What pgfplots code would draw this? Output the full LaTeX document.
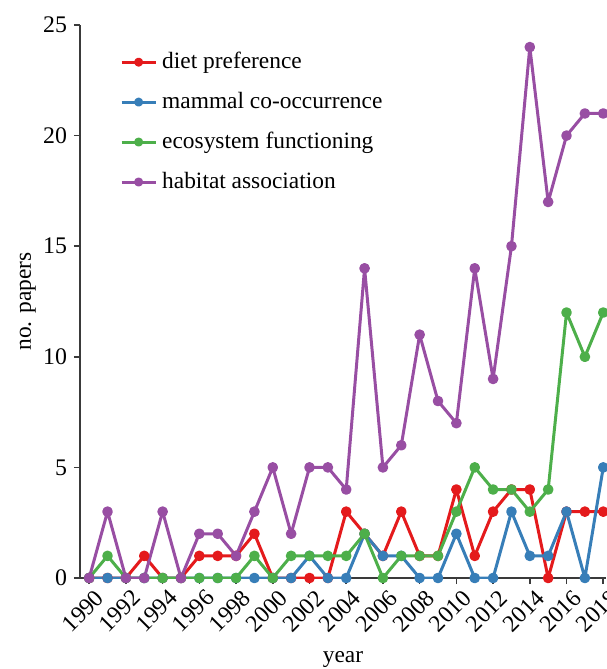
\documentclass[border=0pt]{standalone}
\usepackage{pgfplots}
\pgfplotsset{compat=1.18}
\usepackage{fontspec}
\setmainfont{Liberation Serif}
\definecolor{cred}{HTML}{E41A1C}
\definecolor{cblue}{HTML}{377EB8}
\definecolor{cgreen}{HTML}{4DAF4A}
\definecolor{cpurple}{HTML}{984EA3}
\definecolor{axgray}{HTML}{3A3A3A}
\begin{document}
\begin{tikzpicture}
\begin{axis}[
  name=ax, at={(0,0)}, anchor=south west,
  scale only axis, width=263pt, height=276.5pt,
  xmin=1989.5, xmax=2018.15, ymin=0, ymax=25,
  axis lines=left, axis line style={axgray, line width=1pt, -},
  tick style={axgray, line width=0.8pt},
  tick align=outside, major tick length=3pt,
  xtick={1990,1992,...,2018}, ytick={0,5,...,25},
  xticklabel style={xshift=2.5pt, yshift=-0.5pt, rotate=45, anchor=north east, inner sep=1pt},
  /pgf/number format/1000 sep={},
  /pgf/number format/assume math mode=true,
  font=\fontsize{11.7}{14}\selectfont,
  ticklabel style={font=\fontsize{11.9}{14}\selectfont},
  xlabel={year}, ylabel={no. papers},
  xlabel style={at={(axis description cs:0.5,-0.147)}, anchor=center},
  ylabel style={at={(axis description cs:-0.099,0.5)}, anchor=center},
  every axis plot/.append style={line width=1.5pt, line join=round, mark=*, mark size=1.9pt},
  legend style={draw=none, fill=none, at={(axis description cs:0.064,0.962)}, anchor=north west,
    font=\fontsize{11.7}{14}\selectfont, row sep=8.3pt, nodes={inner sep=1pt}},
  legend cell align=left,
  legend image post style={line width=1.5pt, mark size=1.5pt},
  clip=true,
]
\addplot[cred] coordinates {(1990,0)(1991,0)(1992,0)(1993,1)(1994,0)(1995,0)(1996,1)(1997,1)(1998,1)(1999,2)(2000,0)(2001,0)(2002,0)(2003,0)(2004,3)(2005,2)(2006,1)(2007,3)(2008,1)(2009,1)(2010,4)(2011,1)(2012,3)(2013,4)(2014,4)(2015,0)(2016,3)(2017,3)(2018,3)};
\addlegendentry{\hspace{1.5pt}diet preference}
\addplot[cblue] coordinates {(1990,0)(1991,0)(1992,0)(1993,0)(1994,0)(1995,0)(1996,0)(1997,0)(1998,0)(1999,0)(2000,0)(2001,0)(2002,1)(2003,0)(2004,0)(2005,2)(2006,1)(2007,1)(2008,0)(2009,0)(2010,2)(2011,0)(2012,0)(2013,3)(2014,1)(2015,1)(2016,3)(2017,0)(2018,5)};
\addlegendentry{\hspace{1.5pt}mammal co-occurrence}
\addplot[cgreen] coordinates {(1990,0)(1991,1)(1992,0)(1993,0)(1994,0)(1995,0)(1996,0)(1997,0)(1998,0)(1999,1)(2000,0)(2001,1)(2002,1)(2003,1)(2004,1)(2005,2)(2006,0)(2007,1)(2008,1)(2009,1)(2010,3)(2011,5)(2012,4)(2013,4)(2014,3)(2015,4)(2016,12)(2017,10)(2018,12)};
\addlegendentry{\hspace{1.5pt}ecosystem functioning}
\addplot[cpurple] coordinates {(1990,0)(1991,3)(1992,0)(1993,0)(1994,3)(1995,0)(1996,2)(1997,2)(1998,1)(1999,3)(2000,5)(2001,2)(2002,5)(2003,5)(2004,4)(2005,14)(2006,5)(2007,6)(2008,11)(2009,8)(2010,7)(2011,14)(2012,9)(2013,15)(2014,24)(2015,17)(2016,20)(2017,21)(2018,21)};
\addlegendentry{\hspace{1.5pt}habitat association}
\end{axis}
\pgfresetboundingbox
\path[use as bounding box] (-40pt,-45.5pt) rectangle (263pt,289pt);
\end{tikzpicture}
\end{document}
